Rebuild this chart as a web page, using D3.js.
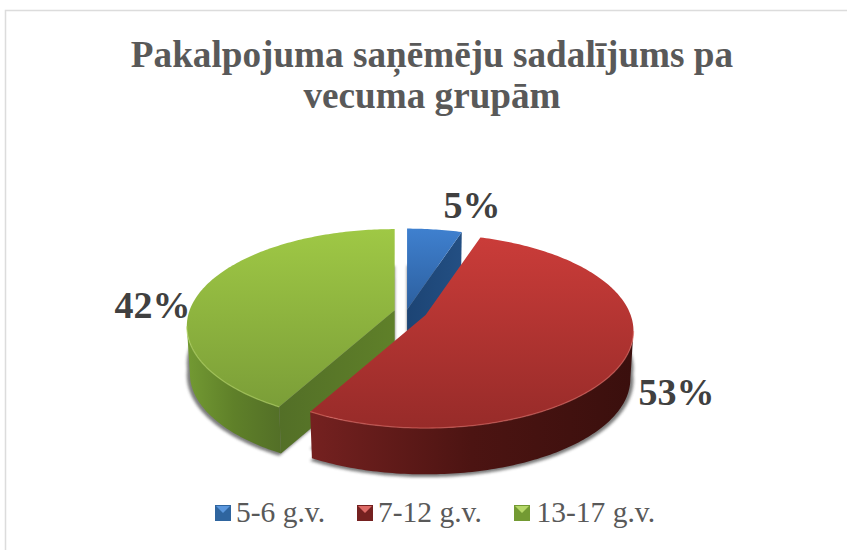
<!DOCTYPE html>
<html lang="en">
<head>
    <meta charset="UTF-8">
    <title>Pakalpojuma saņēmēju sadalījums</title>
    <script src="https://cdn.jsdelivr.net/npm/d3@7"></script>
    <style>
        html, body { margin: 0; padding: 0; background: #fff; }
        svg { display: block; }
        text { font-family: "Liberation Serif", serif; }
    </style>
</head>
<body>
<script>
const titleLines = ["Pakalpojuma saņēmēju sadalījums pa", "vecuma grupām"];
const categories = ["5-6 g.v.", "7-12 g.v.", "13-17 g.v."];
const shares = [5, 53, 42];

// top gradient, bottom gradient, wall colours (left, middle, right), rim highlight
const topColors = [["#3f80cf", "#2c5f9e"], ["#ca3c39", "#972b29"], ["#9fc845", "#7b9e38"]];
const wallColors = [["#2f659f", "#234f83", "#1c4474"], ["#752120", "#4c1412", "#3a0f0d"], ["#739a33", "#5f8029", "#536f27"]];
const rimColors = ["#5b97dd", "#dd6a66", "#b5d768"];

const w = 847, h = 550;
const cx = 410.5, cy = 312;    // pie centre before explosion
const rx = 205, ry = 94.4;     // disc radii on screen
const persp = 0.165;           // how much nearer the front edge looks
const depth = 48;
const explode = 0.08;
const nudge = [[-6, 5], [0, 0], [0, 0]];  // blue sits a bit closer than the pull gives

const svg = d3.select("body").append("svg").attr("width", w).attr("height", h);
const defs = svg.append("defs");

defs.append("filter").attr("id", "soft")
    .attr("x", "-10%").attr("y", "-10%").attr("width", "120%").attr("height", "120%")
    .append("feGaussianBlur").attr("stdDeviation", 1.8);

// chart frame, runs off the right and bottom of the picture
svg.append("path")
    .attr("d", "M5.5," + h + "V10.5H" + w)
    .attr("fill", "none").attr("stroke", "#dcdcdc").attr("stroke-width", 1.5);

svg.append("g").selectAll("text")
    .data(titleLines)
    .enter()
    .append("text")
    .attr("x", 432)
    .attr("y", (d, i) => 67 + i * 41)
    .attr("text-anchor", "middle")
    .attr("font-size", 37.2)
    .attr("font-weight", "bold")
    .attr("fill", "#595959")
    .text(d => d);

const pie = d3.pie().sort(null).value(d => d);
const arcs = pie(shares);

const xScale = d3.scaleLinear().domain([-1, 1]).range([cx - rx, cx + rx]);
const yScale = d3.scaleLinear().domain([-1, 1]).range([cy + ry, cy - ry]);

// perspective projection of a point on the unit disc
const flat = (u, v) => {
    const d = 1 + persp * v;
    return [u / d, v / d];
};

const slices = arcs.map((a, i) => {
    const mid = (a.startAngle + a.endAngle) / 2;
    const pull = flat(explode * Math.sin(mid), explode * Math.cos(mid));
    const ox = xScale(pull[0]) - cx + nudge[i][0];
    const oy = yScale(pull[1]) - cy + nudge[i][1];
    const point = (ang, r, level) => {
        const p = flat(r * Math.sin(ang), r * Math.cos(ang));
        const shrink = level ? 0.985 : 1;
        return [cx + ox + (xScale(p[0]) - cx) * shrink,
                cy + oy + (yScale(p[1]) - cy) * shrink + (level ? depth : 0)];
    };
    return { arc: a, index: i, point: point };
});

const line = d3.line();
const sweep = (s, a0, a1, level) => {
    const n = Math.max(2, Math.ceil((a1 - a0) * 60));
    return d3.range(n + 1).map(k => s.point(a0 + (a1 - a0) * k / n, 1, level));
};
const facePoints = s => [s.point(0, 0, 0)].concat(sweep(s, s.arc.startAngle, s.arc.endAngle, 0));

// gradients
const addGradient = (id, stops, horizontal) => {
    const g = defs.append("linearGradient").attr("id", id)
        .attr("x1", 0).attr("y1", 0)
        .attr("x2", horizontal ? 1 : 0).attr("y2", horizontal ? 0 : 1);
    stops.forEach((c, i) => g.append("stop")
        .attr("offset", i / (stops.length - 1)).attr("stop-color", c));
};
slices.forEach((s, i) => {
    addGradient("top" + i, topColors[i], false);
    addGradient("wall" + i, wallColors[i], true);
    addGradient("cut" + i, [wallColors[i][2], wallColors[i][1]], true);
});

// soft shadow behind and under the pie
const shadow = svg.append("g").attr("filter", "url(#soft)").attr("opacity", 0.7);
slices.forEach(s => {
    [37, 49].forEach(dy => {
        shadow.append("path")
            .attr("d", line(facePoints(s)) + "Z")
            .attr("transform", "translate(0," + dy + ")")
            .attr("fill", "#444");
    });
});

// paint back to front: blue, green, red
const frontLimit = Math.acos(-persp);
[0, 2, 1].forEach(i => {
    const s = slices[i];
    const a0 = s.arc.startAngle, a1 = s.arc.endAngle;
    const g = svg.append("g");

    // flat cut walls that face the viewer
    [[a0, a0 - Math.PI / 2], [a1, a1 + Math.PI / 2]].forEach(e => {
        if (Math.cos(e[1]) < -1e-6) {
            const pts = [s.point(0, 0, 0), s.point(e[0], 1, 0), s.point(e[0], 1, 1), s.point(0, 0, 1)];
            g.append("path").attr("d", line(pts) + "Z").attr("fill", "url(#cut" + i + ")");
        }
    });

    // outer wall, only the part that turns towards the viewer
    const from = Math.max(a0, frontLimit), to = Math.min(a1, 2 * Math.PI - frontLimit);
    if (to > from) {
        const pts = sweep(s, from, to, 0).concat(sweep(s, from, to, 1).reverse());
        g.append("path").attr("d", line(pts) + "Z").attr("fill", "url(#wall" + i + ")");
    }

    g.append("path").attr("d", line(facePoints(s)) + "Z").attr("fill", "url(#top" + i + ")");

    // light bevel along the front rim only
    if (to > from) {
        g.append("path")
            .attr("d", line(sweep(s, from, to, 0)))
            .attr("fill", "none")
            .attr("stroke", rimColors[i])
            .attr("stroke-width", 1.3)
            .attr("opacity", 0.6);
    }
});

// data labels
const labelPos = [[472, 218], [676.5, 405], [152.5, 318]];
svg.append("g").selectAll("text")
    .data(shares)
    .enter()
    .append("text")
    .attr("x", (d, i) => labelPos[i][0])
    .attr("y", (d, i) => labelPos[i][1])
    .attr("text-anchor", "middle")
    .attr("font-size", 38)
    .attr("font-weight", "bold")
    .attr("fill", "#404040")
    .text(d => d + "%");

// legend
const legendX = [215, 357, 514];
const legend = svg.append("g").selectAll("g")
    .data(categories)
    .enter()
    .append("g")
    .attr("transform", (d, i) => "translate(" + legendX[i] + ",505)");
legend.append("rect")
    .attr("width", 16).attr("height", 16)
    .attr("fill", (d, i) => wallColors[i][0]);
legend.append("path")
    .attr("d", "M1,1H15L8,8Z")
    .attr("fill", (d, i) => rimColors[i]);
legend.append("text")
    .attr("x", (d, i) => i == 2 ? 22.5 : 21)
    .attr("y", 17)
    .attr("font-size", 29.5)
    .attr("fill", "#595959")
    .text(d => d);
</script>
</body>
</html>
